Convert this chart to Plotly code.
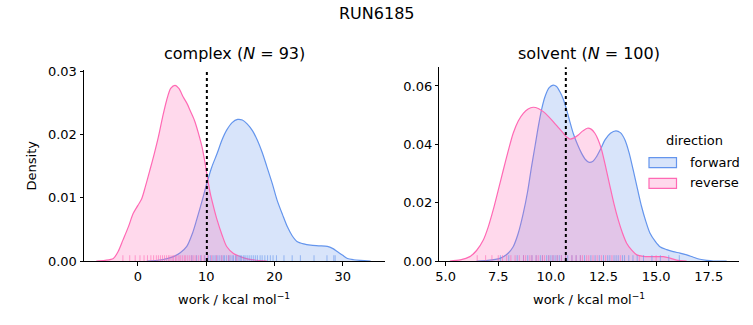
import plotly.graph_objects as go

# ---------------- data ----------------
title = "RUN6185"
panel_titles = ["complex (<i>N</i> = 93)", "solvent (<i>N</i> = 100)"]
directions = ["forward", "reverse"]
colors = {"forward": "#6495ED", "reverse": "#FF69B4"}
legend_title = "direction"

# complex: KDE curves
cx_fwd_x = [1.3, 3.5, 5.2, 6.2, 7.16, 8.0, 8.6, 9.4, 10.1, 10.8, 11.6, 12.3, 13.0, 13.8, 14.6, 15.3, 16.0, 16.8, 17.5, 18.2, 18.9, 19.7, 20.4, 21.2, 21.9, 22.6, 23.3, 24.3, 25.3, 26.5, 27.75, 28.5, 29.2, 30.0, 30.7, 31.6, 32.6, 34.1]
cx_fwd_y = [0.0, 0.0002, 0.0007, 0.0013, 0.0023, 0.0044, 0.0065, 0.0095, 0.0123, 0.0148, 0.017, 0.0191, 0.0207, 0.0219, 0.0224, 0.0223, 0.0217, 0.0206, 0.0191, 0.0172, 0.0149, 0.0122, 0.0096, 0.0073, 0.0054, 0.0040, 0.0031, 0.0027, 0.0025, 0.0024, 0.0023, 0.0020, 0.0015, 0.0009, 0.0004, 0.0002, 0.0001, 0.0]
cx_rev_x = [-6.1, -4.8, -3.6, -2.9, -2.2, -1.4, -0.7, 0.0, 0.54, 1.1, 1.76, 2.4, 2.99, 3.6, 4.2, 4.8, 5.44, 6.0, 6.66, 7.2, 7.65, 8.3, 8.87, 9.4, 9.85, 10.2, 10.6, 11.1, 11.6, 12.3, 13.0, 14.0, 15.0, 16.2, 17.5, 18.9]
cx_rev_y = [0.0, 0.0001, 0.0004, 0.0015, 0.0033, 0.0054, 0.0075, 0.0088, 0.0098, 0.0118, 0.0144, 0.0170, 0.0196, 0.0227, 0.0254, 0.0273, 0.0278, 0.0273, 0.0259, 0.0249, 0.0238, 0.0222, 0.0202, 0.0180, 0.0154, 0.0131, 0.0107, 0.0085, 0.0065, 0.0042, 0.0023, 0.0012, 0.0007, 0.0003, 0.0001, 0.0]

# solvent: KDE curves
sv_fwd_x = [6.47, 7.0, 7.58, 7.9, 8.21, 8.45, 8.69, 8.9, 9.08, 9.25, 9.40, 9.56, 9.72, 9.92, 10.11, 10.27, 10.43, 10.6, 10.75, 10.9, 11.06, 11.26, 11.46, 11.64, 11.82, 12.0, 12.17, 12.37, 12.57, 12.83, 13.09, 13.3, 13.52, 13.72, 13.91, 14.11, 14.31, 14.51, 14.71, 14.95, 15.18, 15.5, 15.81, 16.13, 16.45, 16.77, 17.08, 17.4, 17.71, 18.35]
sv_fwd_y = [0.0, 0.0002, 0.0009, 0.0022, 0.0049, 0.0095, 0.0164, 0.0240, 0.0323, 0.0395, 0.046, 0.0520, 0.0563, 0.0594, 0.0603, 0.0598, 0.058, 0.0553, 0.0518, 0.0478, 0.0438, 0.0400, 0.0369, 0.0348, 0.0338, 0.0342, 0.0358, 0.0385, 0.0415, 0.0438, 0.0446, 0.0440, 0.0415, 0.0370, 0.0312, 0.0248, 0.0186, 0.0136, 0.0095, 0.0068, 0.0049, 0.0039, 0.0032, 0.0027, 0.0021, 0.0013, 0.0006, 0.0002, 0.0, 0.0]
sv_rev_x = [5.2, 5.7, 6.15, 6.47, 6.79, 7.03, 7.26, 7.5, 7.74, 7.98, 8.21, 8.45, 8.69, 8.92, 9.16, 9.4, 9.64, 9.88, 10.11, 10.35, 10.59, 10.75, 10.90, 11.1, 11.30, 11.52, 11.73, 11.91, 12.09, 12.25, 12.41, 12.61, 12.81, 13.0, 13.20, 13.4, 13.60, 13.84, 14.08, 14.4, 14.71, 15.02, 15.34, 15.65, 15.97, 16.45]
sv_rev_y = [0.0, 0.0004, 0.0015, 0.0036, 0.0072, 0.0118, 0.0175, 0.0243, 0.0312, 0.0379, 0.0438, 0.0480, 0.0506, 0.0521, 0.0527, 0.0523, 0.0512, 0.0496, 0.0478, 0.0458, 0.0438, 0.0425, 0.0418, 0.0422, 0.0432, 0.0446, 0.0455, 0.0452, 0.0438, 0.0415, 0.0381, 0.0320, 0.0255, 0.0195, 0.0141, 0.0096, 0.0061, 0.0037, 0.0021, 0.0016, 0.0015, 0.0015, 0.0015, 0.0010, 0.0003, 0.0]

# rug samples (approximate positions of visible ticks)
cx_fwd_rug = [7.9, 8.6, 9.2, 9.8, 10.3, 10.6, 11.0, 11.3, 11.6, 11.9, 12.2, 12.5, 12.7, 13.0, 13.3, 13.5, 13.8, 14.0, 14.3, 14.5, 14.8, 15.0, 15.2, 15.5, 15.7, 16.0, 16.3, 16.6, 16.9, 17.2, 17.5, 17.9, 18.2, 18.6, 19.0, 19.4, 19.8, 20.3, 21.4, 22.6, 23.8, 25.8, 27.7, 28.7, 28.9]
cx_rev_rug = [-2.2, -1.2, -0.4, 0.3, 0.9, 1.4, 1.9, 2.3, 2.7, 3.0, 3.3, 3.6, 3.9, 4.2, 4.5, 4.7, 5.0, 5.2, 5.5, 5.7, 6.0, 6.2, 6.5, 6.8, 7.0, 7.3, 7.6, 7.9, 8.2, 8.5, 8.9, 9.3, 9.7, 10.2, 10.8, 11.5, 12.3, 13.3, 14.5]
sv_fwd_rug = [7.6, 8.0, 8.4, 8.7, 8.9, 9.1, 9.3, 9.5, 9.6, 9.8, 9.9, 10.0, 10.1, 10.2, 10.3, 10.4, 10.5, 10.7, 10.8, 11.0, 11.2, 11.4, 11.6, 11.9, 12.1, 12.3, 12.5, 12.7, 12.8, 13.0, 13.1, 13.2, 13.4, 13.5, 13.7, 13.9, 14.1, 14.4, 14.8, 15.2, 15.6, 16.1]
sv_rev_rug = [6.5, 6.9, 7.2, 7.5, 7.7, 7.9, 8.1, 8.3, 8.5, 8.7, 8.8, 9.0, 9.1, 9.3, 9.4, 9.6, 9.7, 9.9, 10.1, 10.3, 10.5, 10.7, 11.0, 11.2, 11.4, 11.5, 11.7, 11.8, 12.0, 12.2, 12.4, 12.6, 12.9, 13.3, 14.2, 15.0]

complex_mean = 10.1
solvent_mean = 10.71

x_label = "work / kcal mol<sup>\u22121</sup>"
y_label = "Density"
x_ranges = [[-7.9, 36.2], [4.70, 18.95]]
y_ranges = [[0, 0.0303], [0, 0.0664]]
x_ticks = [[0, 10, 20, 30], [5.0, 7.5, 10.0, 12.5, 15.0, 17.5]]
x_ticktext = [["0", "10", "20", "30"], ["5.0", "7.5", "10.0", "12.5", "15.0", "17.5"]]
y_ticks = [[0, 0.01, 0.02, 0.03], [0, 0.02, 0.04, 0.06]]
y_ticktext = [["0.00", "0.01", "0.02", "0.03"], ["0.00", "0.02", "0.04", "0.06"]]

# ---------------- figure ----------------
FONT = "DejaVu Sans"
W, H = 753, 325
fig = go.Figure()

def rgba(hexc, a):
    h = hexc.lstrip("#")
    r, g, b = int(h[0:2], 16), int(h[2:4], 16), int(h[4:6], 16)
    return f"rgba({r},{g},{b},{a})"

def px(x):
    return x / W

def py(y):
    return 1 - y / H

panels = [
    {"fwd": (cx_fwd_x, cx_fwd_y), "rev": (cx_rev_x, cx_rev_y), "rug": (cx_fwd_rug, cx_rev_rug), "mean": complex_mean, "xa": "x", "ya": "y"},
    {"fwd": (sv_fwd_x, sv_fwd_y), "rev": (sv_rev_x, sv_rev_y), "rug": (sv_fwd_rug, sv_rev_rug), "mean": solvent_mean, "xa": "x2", "ya": "y2"},
]

for i, p in enumerate(panels):
    rug_h = (y_ranges[i][1] - y_ranges[i][0]) * 0.03
    for key, d in [("fwd", "forward"), ("rev", "reverse")]:
        xs, ys = p[key]
        fig.add_trace(go.Scatter(
            x=xs, y=ys, mode="lines", line=dict(color=colors[d], width=1.2, shape="spline", smoothing=0.8),
            fill="tozeroy", fillcolor=rgba(colors[d], 0.25), name=d,
            showlegend=False, xaxis=p["xa"], yaxis=p["ya"]))
    for rug, d in [(p["rug"][0], "forward"), (p["rug"][1], "reverse")]:
        rx, ry = [], []
        for v in rug:
            rx += [v, v, None]
            ry += [0, rug_h, None]
        fig.add_trace(go.Scatter(x=rx, y=ry, mode="lines", line=dict(color=rgba(colors[d], 0.6), width=1),
                                 showlegend=False, hoverinfo="skip", xaxis=p["xa"], yaxis=p["ya"]))
    fig.add_shape(type="line", x0=p["mean"], x1=p["mean"], y0=0, y1=1, xref=p["xa"],
                  yref=p["ya"] + " domain", line=dict(color="black", width=2, dash="dot"))

x_domains = [[px(84), px(385)], [px(439.3), px(739.3)]]
y_domains = [[py(261), py(69.5)], [py(261), py(67.3)]]

ax_common = dict(showline=True, linecolor="black", linewidth=1, ticks="outside", ticklen=3.5, tickwidth=1,
                 tickcolor="black", showgrid=False, zeroline=False, automargin=False,
                 tickfont=dict(family=FONT, size=13, color="black"))
for i in range(2):
    sfx = "" if i == 0 else str(i + 1)
    fig.layout["xaxis" + sfx] = dict(ax_common, domain=x_domains[i], range=x_ranges[i], tickvals=x_ticks[i],
                                     ticktext=x_ticktext[i], anchor="y" + sfx)
    fig.layout["yaxis" + sfx] = dict(ax_common, domain=y_domains[i], range=y_ranges[i], tickvals=y_ticks[i],
                                     ticktext=y_ticktext[i], anchor="x" + sfx)

annos = [dict(text=title, x=376.5, y=13, size=16),
         dict(text=panel_titles[0], x=234.5, y=54, size=16),
         dict(text=panel_titles[1], x=589, y=54, size=16),
         dict(text=x_label, x=234, y=299, size=13),
         dict(text=x_label, x=589, y=299, size=13),
         dict(text=legend_title, x=694, y=141, size=13)]
for a in annos:
    fig.add_annotation(xref="paper", yref="paper", showarrow=False, xanchor="center", yanchor="middle",
                       text=a["text"], x=px(a["x"]), y=py(a["y"]), font=dict(family=FONT, size=a["size"], color="black"))
fig.add_annotation(xref="paper", yref="paper", showarrow=False, xanchor="center", yanchor="middle",
                   text=y_label, textangle=-90, x=px(30.5), y=py(166),
                   font=dict(family=FONT, size=13, color="black"))

# manual legend (matplotlib-style patches)
for k, d in enumerate(directions):
    yc = 162.7 + k * 20.6
    fig.add_shape(type="rect", xref="paper", yref="paper", x0=px(649), x1=px(676.5), y0=py(yc - 5), y1=py(yc + 5),
                  fillcolor=rgba(colors[d], 0.25), line=dict(color=colors[d], width=1.2))
    fig.add_annotation(xref="paper", yref="paper", showarrow=False, xanchor="left", yanchor="middle",
                       text=d, x=px(687.5), y=py(yc - 0.5), font=dict(family=FONT, size=13, color="black"))

fig.update_layout(
    width=W, height=H, margin=dict(l=0, r=0, t=0, b=0), plot_bgcolor="white", paper_bgcolor="white",
    showlegend=False,
)

fig.write_html("out.html")
